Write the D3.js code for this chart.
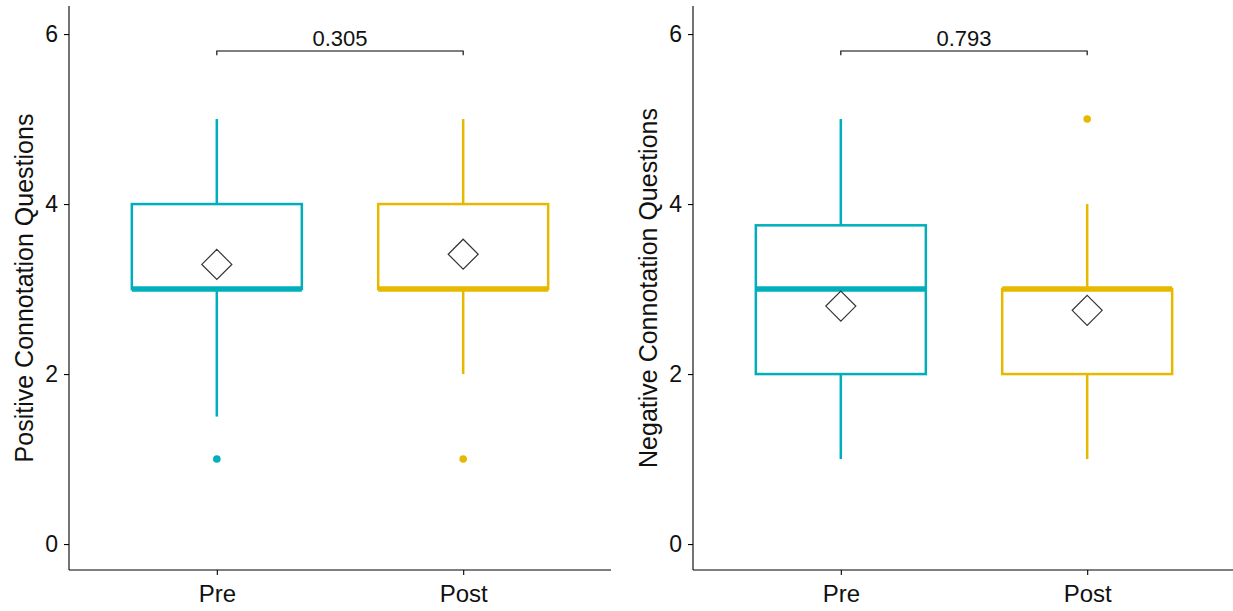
<!DOCTYPE html>
<html>
<head>
<meta charset="utf-8">
<script src="https://cdn.jsdelivr.net/npm/d3@7"></script>
<style>
  body { margin: 0; background: #fff; }
  svg { display: block; font-family: "Liberation Sans", Arial, sans-serif; }
</style>
</head>
<body>
<div id="chart"></div>
<script>
// groups and colours
var groups = ['Pre', 'Post']
var colors = ['#00AFBB', '#E7B800']
var yTicks = [0, 2, 4, 6]

// positive connotation panel
var posMin = [1.5, 2]
var posQ1 = [3, 3]
var posMed = [3, 3]
var posQ3 = [4, 4]
var posMax = [5, 5]
var posMean = [3.29, 3.41]
var posOut = [[1], [1]]

// negative connotation panel
var negMin = [1, 1]
var negQ1 = [2, 2]
var negMed = [3, 3]
var negQ3 = [3.75, 3]
var negMax = [5, 4]
var negMean = [2.8, 2.75]
var negOut = [[], [5]]

var pLabels = ['0.305', '0.793']
var titles = ['Positive Connotation Questions', 'Negative Connotation Questions']

var W = 1233, H = 611

var svg = d3.select('#chart')
  .append('svg')
  .attr('width', W)
  .attr('height', H)

var panels = [
  {left: 69, title: titles[0], p: pLabels[0], min: posMin, q1: posQ1, med: posMed, q3: posQ3, max: posMax, mean: posMean, out: posOut, titleX: 24},
  {left: 693, title: titles[1], p: pLabels[1], min: negMin, q1: negQ1, med: negMed, q3: negQ3, max: negMax, mean: negMean, out: negOut, titleX: 648}
]

var y = d3.scaleLinear().domain([-0.305, 6.33]).range([570, 6])

panels.forEach(function(pn) {
  var x = d3.scalePoint()
    .domain(groups)
    .range([pn.left, pn.left + 542])
    .padding(0.6)
  var boxW = x.step() * 0.69

  var g = svg.append('g')

  // axes
  var yAxis = g.append('g')
    .attr('transform', 'translate(' + pn.left + ',0)')
    .call(d3.axisLeft(y).tickValues(yTicks).tickFormat(d3.format('d')).tickSize(5).tickPadding(6))
  var xAxis = g.append('g')
    .attr('transform', 'translate(0,' + y.range()[0] + ')')
    .call(d3.axisBottom(x).tickSize(5).tickPadding(10))
  ;[yAxis, xAxis].forEach(function(a) {
    a.select('.domain').attr('stroke', '#000').attr('stroke-width', 1.1)
    a.selectAll('.tick line').attr('stroke', '#000').attr('stroke-width', 1.1)
    a.selectAll('text').attr('fill', '#111')
  })
  yAxis.selectAll('text').style('font-size', '23px')
  xAxis.selectAll('text').style('font-size', '24px')
  xAxis.selectAll('path.domain').attr('d', 'M' + pn.left + ',0H' + (pn.left + 542))
  yAxis.selectAll('path.domain').attr('d', 'M0,' + y.range()[0] + 'V' + y.range()[1])

  g.append('text')
    .attr('transform', 'translate(' + pn.titleX + ',' + (y.range()[0] + y.range()[1]) / 2 + ') rotate(-90)')
    .attr('text-anchor', 'middle')
    .attr('dy', '0.35em')
    .style('font-size', '25px')
    .attr('fill', '#111')
    .text(pn.title)

  var boxes = g.selectAll('g.box')
    .data(groups)
    .enter()
    .append('g')
    .attr('class', 'box')

  // whiskers
  boxes.append('line')
    .attr('x1', (d) => x(d)).attr('x2', (d) => x(d))
    .attr('y1', (d, i) => y(pn.max[i])).attr('y2', (d, i) => y(pn.q3[i]))
    .attr('stroke', (d, i) => colors[i]).attr('stroke-width', 2.5)
  boxes.append('line')
    .attr('x1', (d) => x(d)).attr('x2', (d) => x(d))
    .attr('y1', (d, i) => y(pn.q1[i])).attr('y2', (d, i) => y(pn.min[i]))
    .attr('stroke', (d, i) => colors[i]).attr('stroke-width', 2.5)

  boxes.append('rect')
    .attr('x', (d) => x(d) - boxW / 2)
    .attr('width', boxW)
    .attr('y', (d, i) => y(pn.q3[i]))
    .attr('height', (d, i) => y(pn.q1[i]) - y(pn.q3[i]))
    .attr('fill', '#fff')
    .attr('stroke', (d, i) => colors[i])
    .attr('stroke-width', 2.5)

  boxes.append('line')
    .attr('x1', (d) => x(d) - boxW / 2).attr('x2', (d) => x(d) + boxW / 2)
    .attr('y1', (d, i) => y(pn.med[i])).attr('y2', (d, i) => y(pn.med[i]))
    .attr('stroke', (d, i) => colors[i]).attr('stroke-width', 5.5)

  // outliers
  boxes.each(function(d, i) {
    d3.select(this).selectAll('circle')
      .data(pn.out[i])
      .enter()
      .append('circle')
      .attr('cx', x(d))
      .attr('cy', (v) => y(v))
      .attr('r', 3.8)
      .attr('fill', colors[i])
  })

  // means
  boxes.append('path')
    .attr('d', (d, i) => {
      var cx = x(d), cy = y(pn.mean[i]), s = 15
      return 'M' + cx + ',' + (cy - s) + 'L' + (cx + s) + ',' + cy + 'L' + cx + ',' + (cy + s) + 'L' + (cx - s) + ',' + cy + 'Z'
    })
    .attr('fill', '#fff')
    .attr('stroke', '#333')
    .attr('stroke-width', 1.2)

  // p-value bracket
  var by = y(5.8), tip = y(5.75)
  g.append('path')
    .attr('d', 'M' + x('Pre') + ',' + tip + 'V' + by + 'H' + x('Post') + 'V' + tip)
    .attr('fill', 'none')
    .attr('stroke', '#000')
    .attr('stroke-width', 1.1)
  g.append('text')
    .attr('x', (x('Pre') + x('Post')) / 2)
    .attr('y', by - 5)
    .attr('text-anchor', 'middle')
    .style('font-size', '22px')
    .attr('fill', '#111')
    .text(pn.p)
})
</script>
</body>
</html>
